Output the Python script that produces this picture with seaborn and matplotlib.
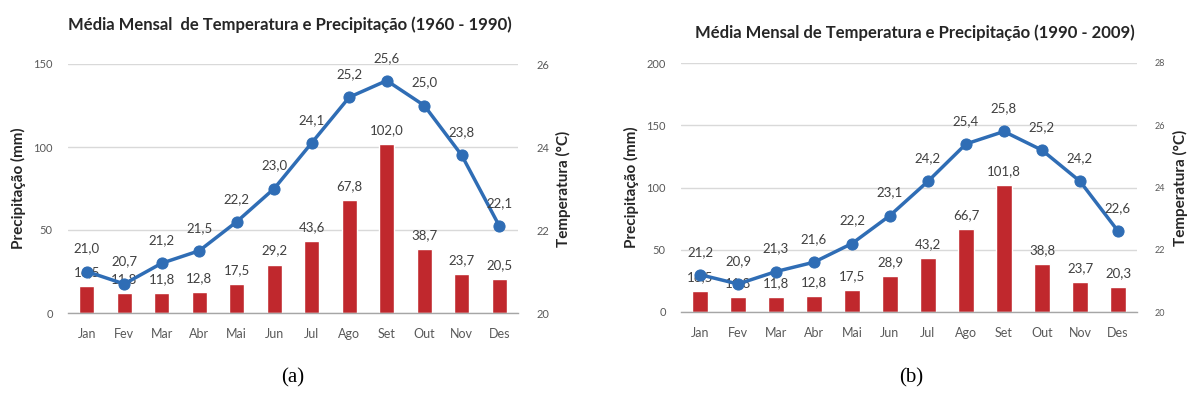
import numpy as np
import pandas as pd
import matplotlib
matplotlib.use("Agg")
import matplotlib.pyplot as plt
import seaborn as sns

months = ["Jan", "Fev", "Mar", "Abr", "Mai", "Jun", "Jul", "Ago", "Set", "Out", "Nov", "Des"]

# Period 1960 - 1990
precip_a = [16.5, 11.8, 11.8, 12.8, 17.5, 29.2, 43.6, 67.8, 102.0, 38.7, 23.7, 20.5]
temp_a = [21.0, 20.7, 21.2, 21.5, 22.2, 23.0, 24.1, 25.2, 25.6, 25.0, 23.8, 22.1]

# Period 1990 - 2009
precip_b = [16.5, 11.8, 11.8, 12.8, 17.5, 28.9, 43.2, 66.7, 101.8, 38.8, 23.7, 20.3]
temp_b = [21.2, 20.9, 21.3, 21.6, 22.2, 23.1, 24.2, 25.4, 25.8, 25.2, 24.2, 22.6]

title_a = "Média Mensal  de Temperatura e Precipitação (1960 - 1990)"
title_b = "Média Mensal de Temperatura e Precipitação (1990 - 2009)"

sns.set_theme(style="white")
plt.rcParams["font.family"] = ["Lato", "DejaVu Sans"]

BAR = "#c0282d"
LINE = "#2f6db5"
TXT = "#404040"
TICK = "#595959"
GRID = "#d9d9d9"

W, H = 1189, 412
fig = plt.figure(figsize=(W / 100, H / 100), dpi=100)


def fmt(v):
    return f"{v:.1f}".replace(".", ",")


def panel(x0, x1, y0, y1, precip, temp, p_max, p_step, t_lim, t_step,
          title, title_xy, letter, letter_x, right_fs):
    ax = fig.add_axes([x0 / W, 1 - y1 / H, (x1 - x0) / W, (y1 - y0) / H])
    df = pd.DataFrame({"mes": months, "precip": precip, "temp": temp})
    sns.barplot(data=df, x="mes", y="precip", color=BAR, width=0.4,
                saturation=1, ax=ax, zorder=3)
    ax.set_ylim(0, p_max)
    ax.set_xlim(-0.5, 11.5)
    ax.set_yticks(np.arange(0, p_max + 1, p_step))
    ax.yaxis.grid(True, color=GRID, linewidth=1, zorder=0)
    ax.set_axisbelow(True)
    for s in ["top", "right", "left"]:
        ax.spines[s].set_visible(False)
    ax.spines["bottom"].set_color("#a6a6a6")
    ax.spines["bottom"].set_linewidth(1)
    ax.spines["bottom"].set_zorder(4)
    ax.set_xticks(np.arange(-0.5, 12, 1), minor=True)
    ax.tick_params(axis="x", which="minor", length=4, color="#a6a6a6", direction="out")
    ax.tick_params(axis="x", which="major", length=0, pad=11, labelsize=9, labelcolor=TICK)
    ax.tick_params(axis="y", length=0, pad=11, labelsize=8, labelcolor=TICK)
    ax.set_xlabel("")
    ax.set_ylabel("Precipitação (mm)", fontsize=11, fontweight="bold", color="#262626", labelpad=5)
    for i, v in enumerate(precip):
        ax.annotate(fmt(v), (i, v), xytext=(0, 10), textcoords="offset points",
                    ha="center", va="center", fontsize=9.5, color=TXT, zorder=6)

    ax2 = ax.twinx()
    sns.lineplot(x=np.arange(12), y=temp, ax=ax2, color=LINE, linewidth=2.5,
                 marker="o", markersize=8, markeredgecolor=LINE, zorder=5)
    ax2.set_ylim(*t_lim)
    ax2.set_xlim(-0.5, 11.5)
    ax2.set_yticks(np.arange(t_lim[0], t_lim[1] + 0.1, t_step))
    for s in ["top", "right", "left", "bottom"]:
        ax2.spines[s].set_visible(False)
    ax2.tick_params(axis="y", length=0, pad=13, labelsize=right_fs, labelcolor=TICK)
    ax2.set_ylabel("Temperatura (°C)", fontsize=11, fontweight="bold", color="#262626",
                   labelpad=5, rotation=90)
    for i, v in enumerate(temp):
        ax2.annotate(fmt(v), (i, v), xytext=(0, 16.5), textcoords="offset points",
                     ha="center", va="center", fontsize=9.5, color=TXT, zorder=6)

    fig.text(title_xy[0] / W, 1 - title_xy[1] / H, title, ha="center", va="center",
             fontsize=12, fontweight="bold", color="#262626")
    fig.text(letter_x / W, 1 - 378 / H, letter, ha="center", va="center",
             fontsize=15, family="Liberation Serif", color="black")
    return ax, ax2


panel(68, 518, 64, 313, precip_a, temp_a, 150, 50, (20, 26), 2,
      title_a, (290, 25), "(a)", 293, 8)
panel(681, 1137, 63, 312, precip_b, temp_b, 200, 50, (20, 28), 2,
      title_b, (915, 33), "(b)", 911, 6.5)

fig.savefig("out.png", dpi=100, facecolor="white")
